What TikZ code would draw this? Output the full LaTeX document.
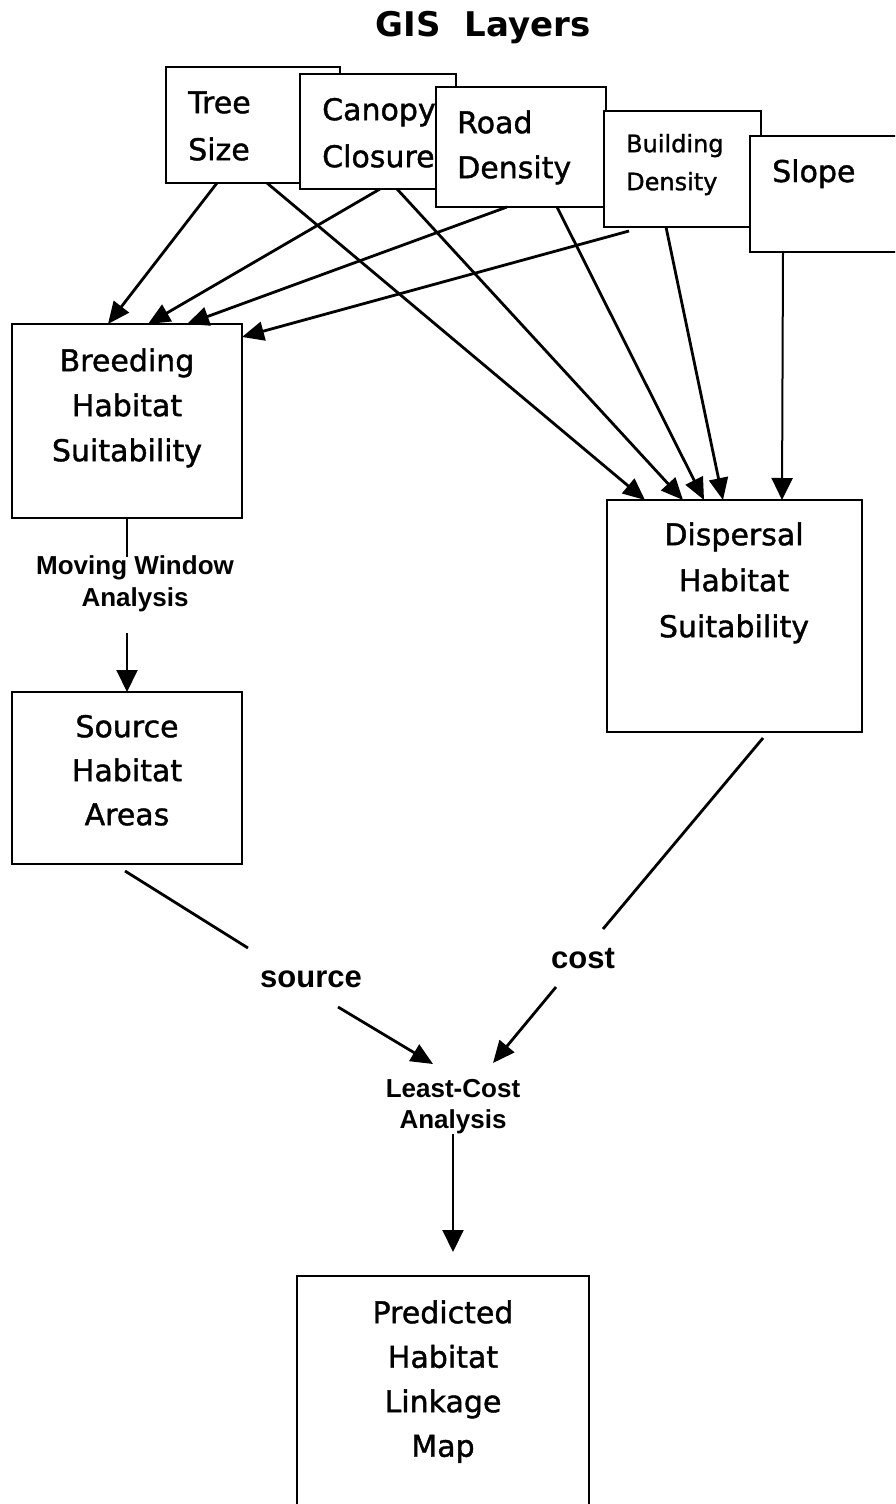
\documentclass[tikz,border=0pt]{standalone}
\usepackage{fontspec}
\setmainfont{DejaVu Sans}
\newfontfamily\boxfont{DejaVu Sans}[FakeBold=1.3]
\newfontfamily\labfont{Liberation Sans}
\usetikzlibrary{arrows.meta}
\newcommand\topstrut{\rule{0pt}{0.9em}}
\begin{document}
\begin{tikzpicture}[x=1pt,y=-1pt,
  box/.style={draw, line width=2.8pt, fill=white, inner sep=0pt, outer sep=0pt, anchor=north west},
  boxtxt/.style={inner sep=0pt, anchor=north, align=center},
  laytxt/.style={inner sep=0pt, anchor=north west, align=left},
  lbl/.style={inner sep=0pt, align=center},
  arr/.style={line width=2.8pt, -{Triangle[length=22pt,width=19pt]}},
  thinarr/.style={line width=2pt, -{Triangle[length=22pt,width=21pt]}},
  ln/.style={line width=2.8pt},
  thinln/.style={line width=2pt}]
\useasboundingbox (0,0) rectangle (895,1504);
\fill[white] (0,0) rectangle (895,1504);
\clip (0,0) rectangle (895,1504);

% title
\node[inner sep=0pt, anchor=base, font=\bfseries\fontsize{34}{40}\selectfont] (title) at (483,37) {GIS~~Layers};

% GIS layer boxes (stacked)
\node[box, minimum width=174pt, minimum height=116pt] (tree) at (166,67) {};
\node[laytxt, font=\boxfont\fontsize{30}{47}\selectfont] (treetxt) at (188,86) {\topstrut Tree\\Size};
\node[box, minimum width=156pt, minimum height=115pt] (canopy) at (300,74) {};
\node[laytxt, font=\boxfont\fontsize{30}{47}\selectfont] (canopytxt) at (322,93) {\topstrut Canopy\\Closure};
\node[box, minimum width=170pt, minimum height=120pt] (road) at (436,87) {};
\node[laytxt, font=\boxfont\fontsize{30}{45}\selectfont] (roadtxt) at (457,106) {\topstrut Road\\Density};
\node[box, minimum width=157pt, minimum height=116pt] (build) at (604,111) {};
\node[laytxt, font=\boxfont\fontsize{24}{38}\selectfont] (buildtxt) at (626,130.4) {\topstrut Building\\Density};
\node[box, minimum width=200pt, minimum height=116pt] (slope) at (750,136) {};
\node[inner sep=0pt, anchor=base west, font=\boxfont\fontsize{30}{40}\selectfont] (slopetxt) at (772,182) {Slope};

% main boxes
\node[box, minimum width=230pt, minimum height=194pt] (breed) at (12,324) {};
\node[boxtxt, font=\boxfont\fontsize{30}{45}\selectfont] (breedtxt) at (127,344) {\topstrut Breeding\\Habitat\\Suitability};
\node[box, minimum width=230pt, minimum height=172pt] (src) at (12,692) {};
\node[boxtxt, font=\boxfont\fontsize{30}{44}\selectfont] (srctxt) at (127,710) {\topstrut Source\\Habitat\\Areas};
\node[box, minimum width=255pt, minimum height=232pt] (disp) at (607,500) {};
\node[boxtxt, font=\boxfont\fontsize{30}{46}\selectfont] (disptxt) at (734,518) {\topstrut Dispersal\\Habitat\\Suitability};
\node[box, minimum width=292pt, minimum height=300pt] (pred) at (297,1276) {};
\node[boxtxt, font=\boxfont\fontsize{30}{44.5}\selectfont] (predtxt) at (443,1296) {\topstrut Predicted\\Habitat\\Linkage\\Map};

% analysis labels
\node[lbl, anchor=north, font=\labfont\bfseries\fontsize{26}{32}\selectfont] (mw) at (135,550.6) {\topstrut Moving Window\\Analysis};
\node[lbl, anchor=north, font=\labfont\bfseries\fontsize{26}{31}\selectfont] (lc) at (453,1073.6) {\topstrut Least-Cost\\Analysis};
\node[lbl, anchor=base, font=\labfont\bfseries\fontsize{31}{36}\selectfont] (srclbl) at (311,987) {source};
\node[lbl, anchor=base, font=\labfont\bfseries\fontsize{31}{36}\selectfont] (costlbl) at (583,968) {cost};

% free ends of split connectors
\coordinate (mwin) at (127,557);
\coordinate (mwout) at (127,633);
\coordinate (s2) at (248,948);
\coordinate (s3) at (338,1007);
\coordinate (c2) at (603,929);
\coordinate (c3) at (556,987);

% layers -> breeding
\draw[arr] ([xshift=51pt]tree.south west) -- ([xshift=96pt]breed.north west);
\draw[arr] ([xshift=80pt]canopy.south west) -- ([xshift=136pt]breed.north west);
\draw[arr] ([xshift=71pt]road.south west) -- ([xshift=175pt]breed.north west);
\draw[arr] ([xshift=25pt,yshift=-4pt]build.south west) -- ([yshift=-13pt]breed.north east);
% layers -> dispersal
\draw[arr] ([xshift=101pt]tree.south west) -- ([xshift=38pt]disp.north west);
\draw[arr] ([xshift=97pt]canopy.south west) -- ([xshift=76pt]disp.north west);
\draw[arr] ([xshift=121pt]road.south west) -- ([xshift=97pt]disp.north west);
\draw[arr] ([xshift=62pt]build.south west) -- ([xshift=116pt]disp.north west);
\draw[thinarr] ([xshift=33pt]slope.south west) -- ([xshift=175pt]disp.north west);

% breeding -> source
\draw[thinln] (breed.south) -- (mwin);
\draw[thinarr] (mwout) -- (src.north);

% source -> least cost
\draw[ln] ([xshift=-2pt,yshift=-7pt]src.south) -- (s2);
\draw[arr] (s3) -- ([xshift=-20pt,yshift=9.6pt]lc.north);
% dispersal -> least cost
\draw[ln] ([xshift=156pt,yshift=-6pt]disp.south west) -- (c2);
\draw[arr] (c3) -- ([xshift=40pt,yshift=10.6pt]lc.north);

% least cost -> predicted
\draw[thinarr] (lc.south) -- ([xshift=10pt,yshift=24pt]pred.north);
\end{tikzpicture}
\end{document}
